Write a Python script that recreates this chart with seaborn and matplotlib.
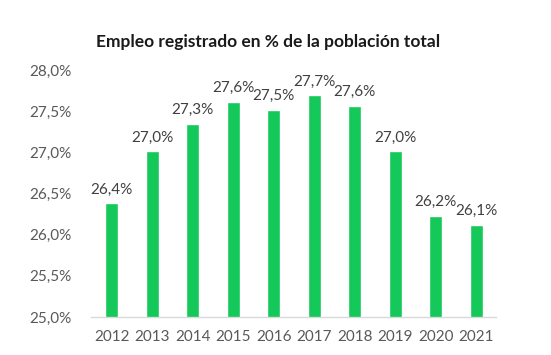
import matplotlib.pyplot as plt
import seaborn as sns
import pandas as pd

# Datos
years = ['2012', '2013', '2014', '2015', '2016', '2017', '2018', '2019', '2020', '2021']
values = [26.38, 27.01, 27.34, 27.61, 27.51, 27.69, 27.56, 27.01, 26.23, 26.12]
yticks = [25.0, 25.5, 26.0, 26.5, 27.0, 27.5, 28.0]

df = pd.DataFrame({'year': years, 'value': values})

sns.set_style('white')
plt.rcParams['font.family'] = ['Lato', 'DejaVu Sans']

fig = plt.figure(figsize=(5.51, 3.55), dpi=100)
ax = fig.add_axes([0.166, 0.107, 0.735, 0.696])

sns.barplot(data=df, x='year', y='value', color='#14C85A', saturation=1,
            width=0.32, ax=ax)

ax.set_ylim(25, 28)
ax.set_xlim(-0.5, 9.5)
ax.set_yticks(yticks)
ax.set_yticklabels([f"{t:.1f}%".replace('.', ',') for t in yticks],
                   fontsize=11, color='#595959')
ax.tick_params(axis='y', length=0, pad=14)
ax.tick_params(axis='x', length=0, pad=9, labelsize=11, labelcolor='#595959')
ax.set_xlabel('')
ax.set_ylabel('')

for s in ['top', 'right', 'left']:
    ax.spines[s].set_visible(False)
ax.spines['bottom'].set_color('#D9D9D9')
ax.spines['bottom'].set_linewidth(1)

ax.bar_label(ax.containers[0],
             labels=[f"{v:.1f}%".replace('.', ',') for v in values],
             padding=5, fontsize=11, color='#404040')

fig.text(0.487, 0.882, 'Empleo registrado en % de la población total',
         ha='center', va='center', fontsize=12.5, fontweight='bold', color='#1a1a1a')

fig.savefig('out.png', dpi=100)
